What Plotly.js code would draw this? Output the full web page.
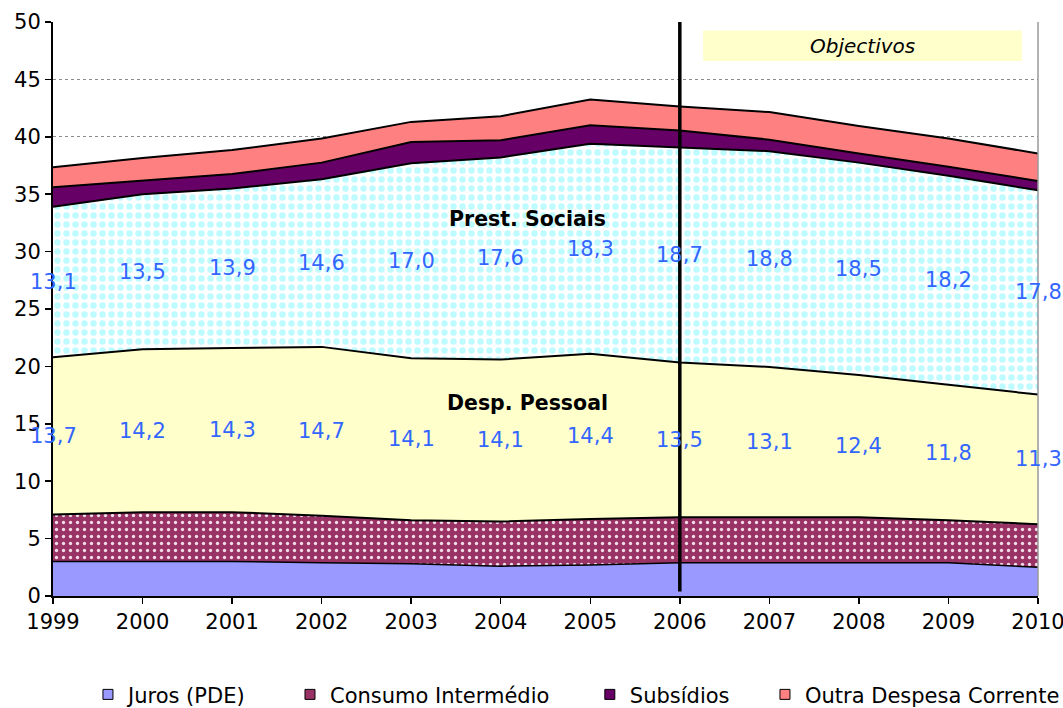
<!DOCTYPE html>
<html>
<head>
<meta charset="utf-8">
<script src="https://cdn.plot.ly/plotly-3.0.1.min.js"></script>
<style>html,body{margin:0;padding:0;background:#fff;}#chart{width:1063px;height:708px;}</style>
</head>
<body>
<div id="chart"></div>
<script>
const years = [1999, 2000, 2001, 2002, 2003, 2004, 2005, 2006, 2007, 2008, 2009, 2010];
const juros = [3.0, 3.0, 3.0, 2.9, 2.8, 2.6, 2.7, 2.9, 2.9, 2.9, 2.9, 2.5];
const consumo = [4.1, 4.3, 4.3, 4.1, 3.8, 3.9, 4.0, 3.95, 3.95, 3.95, 3.7, 3.75];
const pessoal = [13.7, 14.2, 14.3, 14.7, 14.1, 14.1, 14.4, 13.5, 13.1, 12.4, 11.8, 11.3];
const prestSociais = [13.1, 13.5, 13.9, 14.6, 17.0, 17.6, 18.3, 18.7, 18.8, 18.5, 18.2, 17.8];
const subsidios = [1.7, 1.15, 1.25, 1.45, 1.85, 1.5, 1.6, 1.5, 1.0, 0.8, 0.8, 0.8];
const outra = [1.75, 2.0, 2.1, 2.1, 1.75, 2.1, 2.25, 2.1, 2.4, 2.4, 2.45, 2.4];
const yTicks = [0, 5, 10, 15, 20, 25, 30, 35, 40, 45, 50];

const FONT = 'DejaVu Sans, Verdana, sans-serif';
const fmt = v => v.toFixed(1).replace('.', ',');

function area(name, y, color, lw, pattern) {
  const t = {
    type: 'scatter', mode: 'lines', name: name, x: years, y: y,
    stackgroup: 'one', line: {color: '#000', width: lw, shape: 'linear'},
    fillcolor: color, showlegend: false, hoverinfo: 'skip'
  };
  if (pattern) t.fillpattern = pattern;
  return t;
}

const traces = [
  area('Juros (PDE)', juros, '#9999FF', 1.5),
  area('Consumo Intermédio', consumo, '#993366', 2,
       {shape: '.', bgcolor: '#993366', fgcolor: '#F2DCE8', size: 7, solidity: 0.18}),
  area('Desp. Pessoal', pessoal, '#FFFFCC', 2),
  area('Prest. Sociais', prestSociais, '#FFFFFF', 2,
       {shape: '.', bgcolor: '#FFFFFF', fgcolor: '#BDFBFF', size: 9, solidity: 0.4}),
  area('Subsídios', subsidios, '#660066', 2),
  area('Outra Despesa Corrente', outra, '#FF8080', 2)
];

// legend-only entries (small squares like the reference legend)
const legendItems = [
  ['Juros (PDE)', '#9999FF', 'legend'],
  ['Consumo Intermédio', '#993366', 'legend2'],
  ['Subsídios', '#660066', 'legend3'],
  ['Outra Despesa Corrente', '#FF8080', 'legend4']
];
legendItems.forEach(([n, c, lg]) => traces.push({
  type: 'scatter', mode: 'markers', name: n, x: [null], y: [null], legend: lg,
  marker: {symbol: 'square', size: 10, color: c, line: {color: '#000', width: 1}},
  showlegend: true, hoverinfo: 'skip'
}));

// data labels centred in their layers
const annotations = [];
years.forEach((yr, i) => {
  const basePes = juros[i] + consumo[i];
  const basePrest = basePes + pessoal[i];
  annotations.push({x: yr, y: basePes + pessoal[i] / 2, text: fmt(pessoal[i]), showarrow: false,
    font: {family: FONT, size: 21, color: '#3366FF'}, xanchor: 'center', yanchor: 'middle'});
  annotations.push({x: yr, y: basePrest + prestSociais[i] / 2, text: fmt(prestSociais[i]), showarrow: false,
    font: {family: FONT, size: 21, color: '#3366FF'}, xanchor: 'center', yanchor: 'middle'});
});
annotations.push({x: 2004.3, y: 32.85, text: '<b>Prest. Sociais</b>', showarrow: false,
  font: {family: FONT, size: 20.5, color: '#000'}, xanchor: 'center', yanchor: 'middle'});
annotations.push({x: 2004.3, y: 16.8, text: '<b>Desp. Pessoal</b>', showarrow: false,
  font: {family: FONT, size: 20.5, color: '#000'}, xanchor: 'center', yanchor: 'middle'});
annotations.push({x: 2008.04, y: 47.9, text: '<i>Objectivos</i>', showarrow: false,
  font: {family: FONT, size: 20, color: '#000'}, xanchor: 'center', yanchor: 'middle'});

const legBase = {orientation: 'h', yanchor: 'middle', y: -0.172, xanchor: 'left',
  font: {family: FONT, size: 21, color: '#000'}, bgcolor: 'rgba(0,0,0,0)', borderwidth: 0,
  itemwidth: 30, tracegroupgap: 0};

const layout = {
  width: 1063, height: 708,
  margin: {l: 53, r: 25, t: 22, b: 112, autoexpand: false},
  paper_bgcolor: '#fff', plot_bgcolor: '#fff',
  font: {family: FONT, size: 21, color: '#000'},
  xaxis: {
    range: [1999, 2010], tickvals: years, ticktext: years.map(String),
    showgrid: false, zeroline: false, showline: true, linecolor: '#000', linewidth: 2,
    ticks: 'outside', ticklen: 6, tickwidth: 1.5, tickcolor: '#000', ticklabeloverflow: 'allow',
    tickfont: {family: FONT, size: 21, color: '#000'}, fixedrange: true, automargin: false
  },
  yaxis: {
    range: [0, 50], tickvals: yTicks, showgrid: true, gridcolor: '#8c8c8c', griddash: 'dot', gridwidth: 1,
    zeroline: false, showline: true, linecolor: '#000', linewidth: 2,
    ticks: 'outside', ticklen: 6, tickwidth: 1.5, tickcolor: '#000', ticklabeloverflow: 'allow',
    tickfont: {family: FONT, size: 21, color: '#000'}, fixedrange: true, automargin: false
  },
  shapes: [
    {type: 'line', xref: 'paper', yref: 'paper', x0: 1, x1: 1, y0: 0, y1: 1,
     line: {color: '#999', width: 1.5}, layer: 'above'},
    {type: 'rect', xref: 'x', yref: 'y', x0: 2006.26, x1: 2009.82, y0: 46.6, y1: 49.25,
     fillcolor: '#FFFFCC', line: {width: 0}, layer: 'above'},
    {type: 'line', xref: 'x', yref: 'y', x0: 2006, x1: 2006, y0: 0.4, y1: 50.2,
     line: {color: '#000', width: 3.5}, layer: 'above'}
  ],
  annotations: annotations,
  legend: Object.assign({}, legBase, {x: 0.0355}),
  legend2: Object.assign({}, legBase, {x: 0.2406}),
  legend3: Object.assign({}, legBase, {x: 0.545}),
  legend4: Object.assign({}, legBase, {x: 0.7228})
};

Plotly.newPlot('chart', traces, layout, {displayModeBar: false, staticPlot: true});
</script>
</body>
</html>
